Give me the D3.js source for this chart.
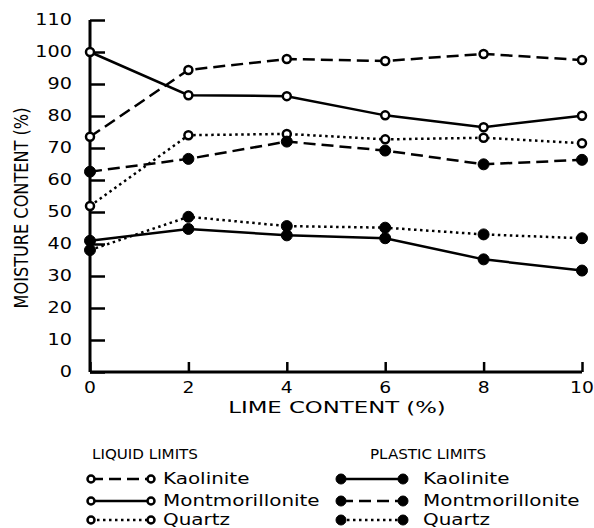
<!DOCTYPE html>
<html>
<head>
<meta charset="utf-8">
<script src="https://cdn.jsdelivr.net/npm/d3@7/dist/d3.min.js"></script>
<style>
  html, body { margin: 0; padding: 0; background: #fff; }
  svg { display: block; }
  text { font-family: "DejaVu Sans", sans-serif; fill: #000; }
</style>
</head>
<body>
<svg id="chart" width="594" height="528"></svg>
<script>
// Lime content (%) on the x axis
const limeContent = [0, 2, 4, 6, 8, 10];

// Liquid limits (%)
const llKaolinite = [73.5, 94.4, 97.8, 97.2, 99.4, 97.5];
const llMontmorillonite = [100, 86.5, 86.2, 80.2, 76.5, 80.1];
const llQuartz = [51.9, 74, 74.4, 72.7, 73.2, 71.5];

// Plastic limits (%)
const plKaolinite = [41, 44.7, 42.7, 41.8, 35.2, 31.7];
const plMontmorillonite = [62.6, 66.6, 72, 69.2, 64.9, 66.3];
const plQuartz = [38.1, 48.5, 45.6, 45.1, 43, 41.8];

const yTicks = [0, 10, 20, 30, 40, 50, 60, 70, 80, 90, 100, 110];
const xTicks = [0, 2, 4, 6, 8, 10];

const series = [
  { name: "Kaolinite", group: "liquid", values: llKaolinite, dash: "12,6", filled: false },
  { name: "Montmorillonite", group: "liquid", values: llMontmorillonite, dash: null, filled: false },
  { name: "Quartz", group: "liquid", values: llQuartz, dash: "2.5,3.5", filled: false },
  { name: "Kaolinite", group: "plastic", values: plKaolinite, dash: null, filled: true },
  { name: "Montmorillonite", group: "plastic", values: plMontmorillonite, dash: "12,6", filled: true },
  { name: "Quartz", group: "plastic", values: plQuartz, dash: "2.5,3.5", filled: true }
];

const svg = d3.select("#chart");
const x = d3.scaleLinear().domain([0, 10]).range([90, 582]);
const y = d3.scaleLinear().domain([0, 110]).range([372, 20]);

// Wide geometric lettering: draw text stretched horizontally
function label(parent, tx, ty, str, opts) {
  const o = Object.assign({ size: 15, sx: 1.3, anchor: "start", rotate: 0, dy: "0" }, opts);
  const g = parent.append("g")
    .attr("transform", `translate(${tx},${ty}) rotate(${o.rotate}) scale(${o.sx},1)`);
  g.append("text")
    .attr("text-anchor", o.anchor)
    .attr("dy", o.dy)
    .attr("font-size", o.size)
    .text(str);
  return g;
}

// Axes: ticks point into the plot
const yAxis = d3.axisRight(y).tickValues(yTicks).tickSize(15).tickFormat("");
const xAxis = d3.axisTop(x).tickValues(xTicks).tickSize(10).tickFormat("");

const gy = svg.append("g").attr("transform", `translate(${x(0)},0)`).call(yAxis);
const gx = svg.append("g").attr("transform", `translate(0,${y(0)})`).call(xAxis);
gy.select(".domain").attr("d", `M0,${y(110)}V${y(0)}`);
gx.select(".domain").attr("d", `M${x(0)},0H${x(10)}`);
[gy, gx].forEach(g => {
  g.select(".domain").attr("stroke", "#000").attr("stroke-width", 3).attr("fill", "none");
  g.selectAll(".tick line").attr("stroke", "#000").attr("stroke-width", 2.5);
});

// Tick labels
const tickLayer = svg.append("g");
yTicks.forEach(d => label(tickLayer, 72, y(d), d, { anchor: "end", dy: "0.36em", size: 15, sx: 1.28 }));
xTicks.forEach(d => label(tickLayer, x(d), 393, d, { anchor: "middle", size: 15, sx: 1.25 }));

// Axis titles
label(svg, 337, 413, "LIME CONTENT (%)", { anchor: "middle", size: 15, sx: 1.52 });
label(svg, 28, 208, "MOISTURE CONTENT (%)", { anchor: "middle", size: 19, sx: 0.85, rotate: -90 });

// Data lines and markers
const line = d3.line().x((d, i) => x(limeContent[i])).y(d => y(d));

series.forEach(s => {
  svg.append("path")
    .datum(s.values)
    .attr("d", line)
    .attr("fill", "none")
    .attr("stroke", "#000")
    .attr("stroke-width", 2.5)
    .attr("stroke-dasharray", s.dash);
});

series.forEach(s => {
  svg.append("g").selectAll("circle").data(s.values).join("circle")
    .attr("cx", (d, i) => x(limeContent[i]))
    .attr("cy", d => y(d))
    .attr("r", s.filled ? 5.5 : 4)
    .attr("fill", s.filled ? "#000" : "#fff")
    .attr("stroke", "#000")
    .attr("stroke-width", s.filled ? 1 : 2.5);
});

// Legend
const legendCols = [
  { group: "liquid", title: "LIQUID LIMITS", titleX: 92, x0: 91, x1: 151, tx: 163 },
  { group: "plastic", title: "PLASTIC LIMITS", titleX: 370, x0: 341, x1: 403, tx: 423 }
];
const rowY = [479, 501, 520];

legendCols.forEach(col => {
  label(svg, col.titleX, 454, col.title, { size: 13.5, sx: 1.12, dy: "0.36em" });
  const items = series.filter(s => s.group === col.group);
  items.forEach((s, i) => {
    const g = svg.append("g").attr("transform", `translate(0,${rowY[i]})`);
    g.append("line")
      .attr("x1", col.x0).attr("x2", col.x1)
      .attr("stroke", "#000").attr("stroke-width", 2.5)
      .attr("stroke-dasharray", s.dash);
    g.selectAll("circle").data([col.x0, col.x1]).join("circle")
      .attr("cx", d => d).attr("cy", 0)
      .attr("r", s.filled ? 5 : 3.5)
      .attr("fill", s.filled ? "#000" : "#fff")
      .attr("stroke", "#000")
      .attr("stroke-width", s.filled ? 1 : 2.5);
    label(g, col.tx, 0, s.name, { size: 15, sx: 1.33, dy: "0.36em" });
  });
});
</script>
</body>
</html>
